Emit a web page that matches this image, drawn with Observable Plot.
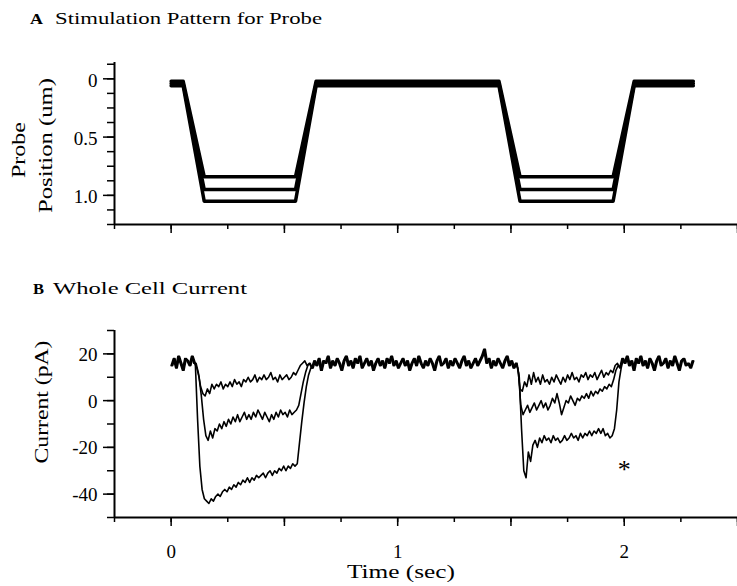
<!DOCTYPE html>
<html>
<head>
<meta charset="utf-8">
<script src="https://cdn.jsdelivr.net/npm/d3@7"></script>
<script src="https://cdn.jsdelivr.net/npm/@observablehq/plot@0.6"></script>
<style>
  html, body { margin: 0; padding: 0; background: #fff; }
  #fig { position: relative; width: 737px; height: 586px; overflow: hidden; background: #fff; }
  #plotA, #plotB, #overlay { position: absolute; left: 0; }
  #plotA { top: 0; }
  #plotB { top: 300px; }
  #overlay { top: 0; pointer-events: none; }
</style>
</head>
<body>
<div id="fig">
  <div id="plotA"></div>
  <div id="plotB"></div>
  <svg id="overlay" width="737" height="586" font-family="'Liberation Serif', 'Times New Roman', serif" fill="#000">
    <text x="30" y="24" font-size="14" font-weight="bold" textLength="13" lengthAdjust="spacingAndGlyphs">A</text>
    <text x="55" y="24" font-size="17" textLength="267" lengthAdjust="spacingAndGlyphs">Stimulation Pattern for Probe</text>
    <text x="33" y="294" font-size="14" font-weight="bold" textLength="11" lengthAdjust="spacingAndGlyphs">B</text>
    <text x="53" y="294" font-size="17" textLength="194" lengthAdjust="spacingAndGlyphs">Whole Cell Current</text>
    <text transform="translate(25,150) rotate(-90)" text-anchor="middle" font-size="18" textLength="56" lengthAdjust="spacingAndGlyphs">Probe</text>
    <text transform="translate(51.5,145.5) rotate(-90)" text-anchor="middle" font-size="18" textLength="135" lengthAdjust="spacingAndGlyphs">Position (um)</text>
    <text transform="translate(48,402) rotate(-90)" text-anchor="middle" font-size="18" textLength="123" lengthAdjust="spacingAndGlyphs">Current (pA)</text>
    <text x="401" y="578" text-anchor="middle" font-size="18" textLength="108" lengthAdjust="spacingAndGlyphs">Time (sec)</text>
  </svg>
</div>
<script>
const FONT = "'Liberation Serif', 'Times New Roman', serif";

// ---------- Panel A: probe stimulation pattern ----------
const probeTimes = [0, 0.053, 0.146, 0.549, 0.64, 1.447, 1.54, 1.951, 2.044, 2.305]; // s
const probeRest  = [0.02, 0.04, 0.06];   // um (resting level, three overlapping traces)
const probeDepth = [0.84, 0.95, 1.05];   // um (step depth of the three traces)
const probeTicks = [0, 0.5, 1.0];
const probeTickLabels = ["0", "0.5", "1.0"];

// ---------- Panel B: whole cell current (pA), sampled every dt seconds ----------
const dt = 0.01;
const traceShift = [0, 0.0033, 0.0067];  // s, small acquisition offset of the three sweeps
const currentTicks = [20, 0, -20, -40];
const currentTickLabels = ["20", "0", "-20", "-40"];
const timeTicks = [0, 1, 2];
const timeTickLabels = ["0", "1", "2"];

// shared baseline 0.00 - 0.10 s
const preBase = [15, 18, 14, 19, 16, 13, 18, 17, 15, 19, 16];
// first step 0.11 - 0.61 s
const small1 = [16, 12, 6, 3, 2, 5, 3, 7, 5, 7,
                6, 8, 5, 7, 6, 8, 6, 9, 7, 8,
                6, 9, 8, 10, 8, 9, 11, 8, 10, 9,
                11, 9, 10, 12, 9, 10, 8, 11, 9, 10,
                11, 9, 10, 12, 11, 13, 15, 16, 17, 15,
                16];
const mid1   = [14, 10, 2, -8, -15, -17, -13, -16, -12, -13,
                -10, -12, -9, -11, -8, -10, -7, -9, -6, -9,
                -7, -5, -8, -6, -8, -5, -7, -4, -6, -8,
                -5, -7, -9, -6, -8, -5, -7, -4, -6, -5,
                -7, -4, -6, -5, -4, -2, 3, 8, 12, 15,
                16];
const large1 = [-8, -28, -38, -42, -43, -44, -42, -43, -41, -40,
                -41, -39, -38, -39, -37, -38, -36, -37, -35, -36,
                -34, -35, -33, -35, -33, -34, -32, -33, -32, -31,
                -33, -31, -30, -32, -30, -31, -29, -30, -28, -30,
                -28, -29, -27, -28, -27, -18, -9, -1, 6, 11,
                14];
// shared baseline 0.62 - 1.52 s
const midBase = [14, 17, 15, 18, 13, 17, 16, 19, 14, 17,
                 15, 18, 16, 13, 17, 19, 15, 17, 14, 18,
                 16, 19, 14, 16, 18, 15, 17, 13, 16, 18,
                 15, 17, 14, 18, 16, 19, 15, 17, 14, 16,
                 18, 15, 17, 13, 16, 18, 15, 19, 16, 14,
                 17, 15, 18, 16, 13, 17, 19, 15, 16, 18,
                 14, 17, 15, 18, 16, 14, 17, 19, 15, 17,
                 14, 16, 18, 15, 17, 19, 22, 16, 18, 14,
                 17, 15, 18, 16, 14, 17, 19, 15, 17, 14,
                 16];
// second step 1.53 - 1.97 s
const small2 = [14, 5, 4, 8, 6, 11, 7, 12, 8, 10,
                7, 11, 8, 9, 7, 10, 8, 11, 9, 7,
                10, 8, 11, 9, 12, 9, 10, 8, 11, 10,
                12, 9, 11, 10, 12, 9, 11, 13, 10, 12,
                11, 13, 12, 15, 16];
const mid2   = [12, -2, -6, -4, -2, -5, -3, -1, -4, -2,
                0, -3, -1, -4, -2, 1, -1, 3, -1, -6,
                -3, 0, -1, 2, 0, -2, 1, 0, 2, 1,
                3, 1, 4, 2, 4, 3, 5, 4, 6, 5,
                7, 6, 9, 13, 15];
const large2 = [10, -12, -30, -33, -22, -26, -19, -17, -20, -16,
                -18, -15, -17, -16, -18, -15, -17, -16, -18, -17,
                -15, -17, -16, -14, -16, -15, -17, -14, -16, -14,
                -15, -13, -15, -13, -14, -12, -14, -12, -15, -14,
                -16, -15, -12, -4, 8];
// shared baseline 1.98 - 2.30 s
const postBase = [14, 18, 16, 19, 15, 17, 13, 18, 16, 19,
                  15, 17, 14, 18, 16, 13, 17, 19, 15, 16,
                  18, 14, 17, 15, 19, 16, 13, 17, 18, 15,
                  16, 14, 17];

const markerT = [2.0];
const markerPA = [-27];
const markerText = ["*"];

// ---------- build tables ----------
const probeData = [];
probeDepth.forEach((depth, k) => {
  const rest = probeRest[k];
  const levels = [rest, rest, depth, depth, rest, rest, depth, depth, rest, rest];
  probeTimes.forEach((t, i) => probeData.push({trace: k, t, pos: levels[i]}));
});

const segments = [
  {start: 0.00, traces: [preBase, preBase, preBase]},
  {start: 0.11, traces: [small1, mid1, large1]},
  {start: 0.62, traces: [midBase, midBase, midBase]},
  {start: 1.53, traces: [small2, mid2, large2]},
  {start: 1.98, traces: [postBase, postBase, postBase]}
];
const currentData = [];
for (let k = 0; k < 3; k++) {
  for (const seg of segments) {
    seg.traces[k].forEach((v, i) => currentData.push({trace: k, t: seg.start + i * dt + traceShift[k], pA: v}));
  }
}
const markerData = markerT.map((t, i) => ({t, pA: markerPA[i], label: markerText[i]}));
const probeLabelData = probeTicks.map((v, i) => ({v, label: probeTickLabels[i]}));
const currentLabelData = currentTicks.map((v, i) => ({v, label: currentTickLabels[i]}));
const timeLabelData = timeTicks.map((v, i) => ({v, label: timeTickLabels[i]}));

const style = {fontFamily: FONT, fontSize: "19px", color: "#000", background: "transparent", overflow: "visible"};
const blank = () => "";

const plotA = Plot.plot({
  width: 737, height: 240,
  marginTop: 62, marginBottom: 16, marginLeft: 114, marginRight: 0,
  x: {domain: [-0.25, 2.5]},
  y: {domain: [-0.14, 1.25], reverse: true},
  style,
  marks: [
    Plot.axisY(d3.range(-0.125, 1.26, 0.125), {tickSize: 7, tickFormat: blank, label: null, strokeWidth: 1.5}),
    Plot.axisY(probeTicks, {tickSize: 11, tickFormat: blank, label: null, strokeWidth: 1.5}),
    Plot.text(probeLabelData, {y: "v", text: "label", frameAnchor: "left", textAnchor: "end", dx: -17, dy: 2, fontSize: 19}),
    Plot.axisX(d3.range(-0.25, 2.51, 0.25), {tickSize: 5, tickFormat: blank, label: null, strokeWidth: 1.5}),
    Plot.axisX(d3.range(0, 2.51, 0.5), {tickSize: 9, tickFormat: blank, label: null, strokeWidth: 1.5}),
    Plot.ruleX([-0.25], {strokeWidth: 2}),
    Plot.ruleY([1.25], {strokeWidth: 2}),
    Plot.line(probeData, {x: "t", y: "pos", z: "trace", stroke: "#000", strokeWidth: 3.5, strokeLinejoin: "round"})
  ]
});
document.getElementById("plotA").appendChild(plotA);

const plotB = Plot.plot({
  width: 737, height: 286,
  marginTop: 30, marginBottom: 69, marginLeft: 114, marginRight: 0,
  x: {domain: [-0.25, 2.5]},
  y: {domain: [-50, 30]},
  style,
  marks: [
    Plot.axisY(d3.range(-50, 31, 10), {tickSize: 7, tickFormat: blank, label: null, strokeWidth: 1.5}),
    Plot.axisY(currentTicks, {tickSize: 11, tickFormat: blank, label: null, strokeWidth: 1.5}),
    Plot.text(currentLabelData, {y: "v", text: "label", frameAnchor: "left", textAnchor: "end", dx: -17, dy: 1, fontSize: 19}),
    Plot.axisX(d3.range(-0.25, 2.51, 0.25), {tickSize: 5, tickFormat: blank, label: null, strokeWidth: 1.5}),
    Plot.axisX(d3.range(0, 2.51, 0.5), {tickSize: 9, tickFormat: blank, label: null, strokeWidth: 1.5}),
    Plot.text(timeLabelData, {x: "v", text: "label", frameAnchor: "bottom", lineAnchor: "top", dy: 27, fontSize: 19}),
    Plot.ruleX([-0.25], {strokeWidth: 2}),
    Plot.ruleY([-50], {strokeWidth: 2}),
    Plot.line(currentData, {x: "t", y: "pA", z: "trace", stroke: "#000", strokeWidth: 1.6, strokeLinejoin: "round"}),
    Plot.text(markerData, {x: "t", y: "pA", text: "label", fontSize: 26, dy: 6})
  ]
});
document.getElementById("plotB").appendChild(plotB);
</script>
</body>
</html>
